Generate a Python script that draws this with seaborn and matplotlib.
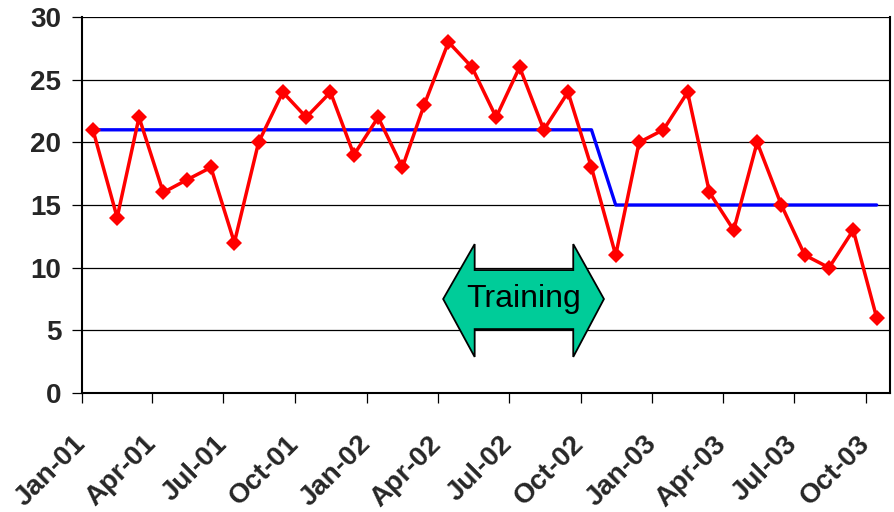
import pandas as pd
import matplotlib.pyplot as plt
import seaborn as sns
from matplotlib.patches import Polygon

# monthly values, Jan-01 .. Oct-03
values = [21, 14, 22, 16, 17, 18, 12, 20, 24, 22, 24, 19,
          22, 18, 23, 28, 26, 22, 26, 21, 24, 18, 11, 20,
          21, 24, 16, 13, 20, 15, 11, 10, 13, 6]
# average level before / after training
avg_before = 21
avg_after = 15
n_before = 22
tick_labels = ['Jan-01', 'Apr-01', 'Jul-01', 'Oct-01', 'Jan-02', 'Apr-02',
               'Jul-02', 'Oct-02', 'Jan-03', 'Apr-03', 'Jul-03', 'Oct-03']

dates = pd.date_range('2001-01-01', periods=len(values), freq='MS') + pd.Timedelta(days=14)
df = pd.DataFrame({
    'date': dates,
    'value': values,
    'avg': [avg_before] * n_before + [avg_after] * (len(values) - n_before),
})

sns.set_style('white')
plt.rcParams['font.family'] = ['Liberation Sans', 'DejaVu Sans']

fig = plt.figure(figsize=(8.94, 5.12), dpi=100)
ax = fig.add_axes([0.0917, 0.2324, 0.9038, 0.7344])

sns.lineplot(x='date', y='avg', data=df, color='#0000FF', linewidth=2.4, ax=ax, zorder=3)
sns.lineplot(x='date', y='value', data=df, color='#FF0000', linewidth=2.5,
             marker='D', markersize=8.5, markeredgewidth=0, ax=ax, zorder=4)

ax.set_ylim(0, 30)
ax.set_yticks(range(0, 31, 5))
ax.set_xlim(pd.Timestamp('2001-01-01'), pd.Timestamp('2003-11-01'))
ticks = pd.date_range('2001-01-01', periods=len(tick_labels), freq='3MS')
ax.set_xticks(ticks)
ax.set_xticklabels(tick_labels)
ax.set_xlabel('')
ax.set_ylabel('')

ax.grid(axis='y', color='black', linewidth=0.9)
ax.grid(axis='x', visible=False)
ax.set_axisbelow(True)
for side in ['left', 'bottom', 'right']:
    ax.spines[side].set_color('black')
    ax.spines[side].set_linewidth(1.5)
ax.spines['top'].set_visible(False)

ax.tick_params(axis='y', direction='out', length=7, width=0.9, color='black',
               left=True, pad=8, labelsize=20)
ax.tick_params(axis='x', direction='out', length=7, width=0.9, color='black',
               bottom=True, pad=27, labelsize=20)
for lab in ax.get_yticklabels():
    lab.set_fontweight('bold')
plt.setp(ax.get_xticklabels(), rotation=45, ha='right', va='center',
         rotation_mode='anchor', fontweight='bold')

# double-headed "Training" arrow (axes fraction coords)
xl, xh1, xh2, xr = 0.447, 0.486, 0.608, 0.646
yh_top, ys_top, ymid, ys_bot, yh_bot = 0.396, 0.327, 0.25, 0.170, 0.096
arrow = Polygon([(xl, ymid), (xh1, yh_top), (xh1, ys_top), (xh2, ys_top),
                 (xh2, yh_top), (xr, ymid), (xh2, yh_bot), (xh2, ys_bot),
                 (xh1, ys_bot), (xh1, yh_bot)],
                closed=True, transform=ax.transAxes, facecolor='#00CC99',
                edgecolor='black', linewidth=1.3, zorder=5)
ax.add_patch(arrow)
ax.text((xl + xr) / 2, ymid, 'Training', transform=ax.transAxes,
        ha='center', va='center', fontsize=23, color='black', zorder=6)

fig.savefig('out.png', dpi=100)
